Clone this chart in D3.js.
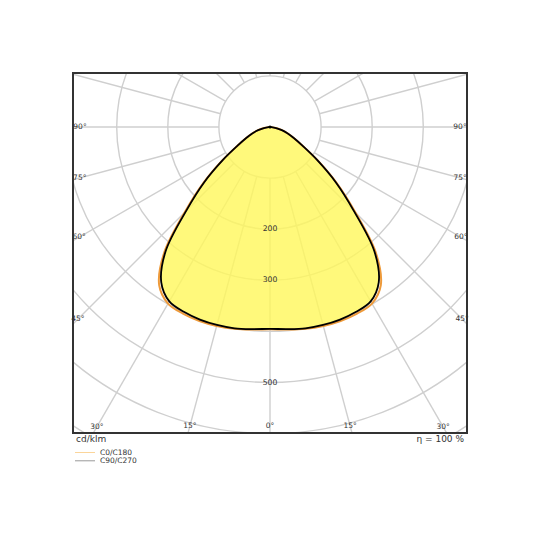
<!DOCTYPE html>
<html>
<head>
    <title>Light distribution curve</title>
    <script src="https://d3js.org/d3.v7.min.js"></script>
    <style>
        body { margin: 0; background: #fff; }
        text { font-family: "DejaVu Sans", sans-serif; fill: #333; }
    </style>
</head>
<body>
    <div id="chart"></div>
    <script>
        // gamma angles (deg) and luminous intensity in cd/klm
        const gammas = [0, 5, 10, 15, 20, 25, 30, 35, 40, 45, 50, 55, 60, 65, 70, 75, 80, 85, 90];
        const c0c180 = [396, 398, 401, 403, 404, 403, 399, 378, 323, 236, 170, 114, 74, 52, 37, 24, 12, 3, 0];
        const c90c270 = [395, 397, 400, 401, 401, 399, 394, 371, 318, 232, 168, 113, 74, 52, 37, 24, 12, 3, 0];
        const ringValues = [100, 200, 300, 400, 500, 600, 700];
        const ringLabels = [200, 300, 500];
        const angleLabels = [0, 15, 30, 45, 60, 75, 90];
        const spokeAngles = d3.range(0, 360, 15);

        const width = 540, height = 540;
        const box = { x: 73, y: 73, w: 394, h: 360 };
        const cx = box.x + box.w / 2, cy = 127;

        const r = d3.scaleLinear().domain([0, 600]).range([0, 306.6]);

        const svg = d3.select("#chart")
            .append("svg")
            .attr("width", width)
            .attr("height", height);

        svg.append("defs").append("clipPath")
            .attr("id", "box-clip")
            .append("rect")
            .attr("x", box.x).attr("y", box.y)
            .attr("width", box.w).attr("height", box.h);

        // clip on the outer group, translate on the inner one
        const plot = svg.append("g")
            .attr("clip-path", "url(#box-clip)")
            .append("g")
            .attr("transform", `translate(${cx},${cy})`);

        // both halves of a plane: left side gamma -> angle pi+g, right side pi-g
        function planePoints(values) {
            const pts = [];
            for (let i = gammas.length - 1; i >= 0; i--) pts.push([Math.PI + gammas[i] * Math.PI / 180, values[i]]);
            for (let i = 1; i < gammas.length; i++) pts.push([Math.PI - gammas[i] * Math.PI / 180, values[i]]);
            return pts;
        }

        const radial = d3.lineRadial()
            .angle(d => d[0])
            .radius(d => r(d[1]))
            .curve(d3.curveCatmullRom);

        // grid
        const grid = plot.append("g")
            .attr("stroke", "#cfcfcf")
            .attr("stroke-width", 1.4)
            .attr("fill", "none");

        grid.selectAll("circle")
            .data(ringValues)
            .join("circle")
            .attr("r", d => r(d));

        grid.selectAll("line")
            .data(spokeAngles)
            .join("line")
            .attr("x1", d => r(100) * Math.sin(d * Math.PI / 180))
            .attr("y1", d => r(100) * Math.cos(d * Math.PI / 180))
            .attr("x2", d => r(900) * Math.sin(d * Math.PI / 180))
            .attr("y2", d => r(900) * Math.cos(d * Math.PI / 180));

        // translucent yellow fill over the grid
        plot.append("path")
            .attr("d", radial(planePoints(c90c270)) + "Z")
            .attr("fill", "rgb(255,248,90)")
            .attr("fill-opacity", 0.8);

        // curves
        plot.append("path")
            .attr("d", radial(planePoints(c0c180)) + "Z")
            .attr("fill", "none")
            .attr("stroke", "#ee9a3a")
            .attr("stroke-width", 2);

        plot.append("path")
            .attr("d", radial(planePoints(c90c270)) + "Z")
            .attr("fill", "none")
            .attr("stroke", "#000")
            .attr("stroke-width", 1.8)
            .attr("stroke-linejoin", "round");

        // luminaire origin marker
        plot.append("circle")
            .attr("cx", 0)
            .attr("cy", -r(0))
            .attr("r", 1.6)
            .attr("fill", "#000");

        // value labels on the 0 degree line
        svg.selectAll("text.ring")
            .data(ringLabels)
            .join("text")
            .attr("class", "ring")
            .attr("x", cx)
            .attr("y", d => cy + r(d))
            .attr("text-anchor", "middle")
            .attr("dominant-baseline", "middle")
            .style("font-size", "7.7px")
            .text(d => d);

        // angle labels where spokes meet the frame
        function edgePoint(g, side) {
            const dx = side * Math.sin(g * Math.PI / 180), dy = Math.cos(g * Math.PI / 180);
            let t = Infinity;
            if (dx < 0) t = Math.min(t, (box.x - cx) / dx);
            if (dx > 0) t = Math.min(t, (box.x + box.w - cx) / dx);
            if (dy > 0) t = Math.min(t, (box.y + box.h - cy) / dy);
            t -= 7;
            return [cx + dx * t, cy + dy * t];
        }
        const labelData = [];
        angleLabels.forEach(g => {
            labelData.push({ g: g, p: edgePoint(g, -1) });
            if (g > 0) labelData.push({ g: g, p: edgePoint(g, 1) });
        });
        svg.selectAll("text.angle")
            .data(labelData)
            .join("text")
            .attr("class", "angle")
            .attr("x", d => d.p[0])
            .attr("y", d => d.p[1])
            .attr("text-anchor", "middle")
            .attr("dominant-baseline", "middle")
            .style("font-size", "7.5px")
            .text(d => d.g + "°");

        // frame
        svg.append("rect")
            .attr("x", box.x).attr("y", box.y)
            .attr("width", box.w).attr("height", box.h)
            .attr("fill", "none")
            .attr("stroke", "#333")
            .attr("stroke-width", 2);

        svg.append("text")
            .attr("x", 76).attr("y", 442)
            .style("font-size", "9px")
            .text("cd/klm");

        svg.append("text")
            .attr("x", 464).attr("y", 442)
            .attr("text-anchor", "end")
            .style("font-size", "9px")
            .text("η = 100 %");

        // legend
        const legend = [
            { name: "C0/C180", color: "#fbd59a" },
            { name: "C90/C270", color: "#999" }
        ];
        const lg = svg.selectAll("g.legend")
            .data(legend)
            .join("g")
            .attr("class", "legend")
            .attr("transform", (d, i) => `translate(75,${452.5 + i * 8.3})`);
        lg.append("line")
            .attr("x1", 0).attr("x2", 20)
            .attr("stroke", d => d.color)
            .attr("stroke-width", 1);
        lg.append("text")
            .attr("x", 25)
            .attr("dominant-baseline", "middle")
            .style("font-size", "7.5px")
            .text(d => d.name);
    </script>
</body>
</html>
